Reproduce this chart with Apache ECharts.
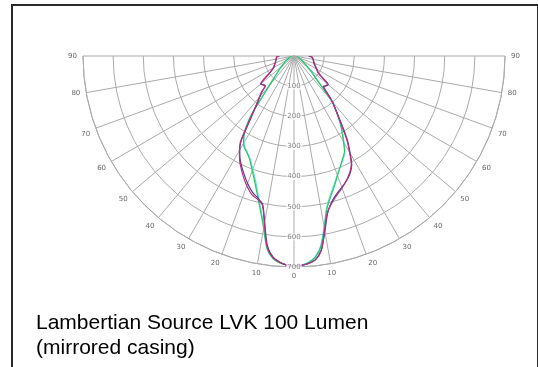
<!DOCTYPE html>
<html>
<head>
<meta charset="utf-8">
<script src="https://cdn.jsdelivr.net/npm/echarts@6/dist/echarts.min.js"></script>
<style>
  html, body { margin: 0; padding: 0; background: #fff; }
  #chart { width: 538px; height: 367px; }
</style>
</head>
<body>
<div id="chart"></div>
<script>
// gamma angles (deg), negative = left half
const angles = [-90, -87, -80, -70, -60, -55, -52, -50, -47, -44, -42, -40, -38, -36, -34, -32, -30, -28, -26, -23, -20, -17, -14, -12, -10, -8, -6, -4, -2,
  0, 2, 4, 6, 8, 10, 12, 14, 17, 20, 23, 26, 28, 30, 32, 34, 36, 38, 40, 42, 44, 47, 50, 52, 55, 60, 70, 80, 87, 90]

// intensity curves
const red = [50, 58, 60, 67, 80, 100, 130, 143, 140, 138, 160, 180, 200, 230, 275, 335, 362, 385, 405, 432, 458, 480, 492, 505, 565, 640, 672, 686, 694,
  697, 695, 690, 680, 652, 585, 532, 508, 484, 466, 447, 425, 405, 368, 333, 290, 252, 222, 198, 165, 142, 144, 146, 128, 100, 88, 72, 65, 60, 50]
const blue = [48, 56, 60, 66, 78, 98, 128, 145, 140, 137, 158, 176, 198, 228, 270, 330, 360, 382, 400, 425, 450, 472, 488, 502, 560, 635, 670, 685, 694,
  697, 695, 690, 679, 650, 590, 535, 505, 480, 464, 448, 428, 408, 372, 338, 295, 255, 224, 198, 163, 140, 146, 148, 126, 98, 86, 70, 64, 58, 48]
const green = [8, 9, 12, 18, 28, 38, 46, 55, 68, 82, 100, 125, 165, 240, 285, 315, 335, 348, 356, 375, 405, 442, 490, 530, 580, 645, 675, 688, 694,
  697, 695, 688, 672, 640, 580, 522, 490, 455, 422, 395, 372, 357, 328, 302, 277, 250, 222, 195, 142, 108, 82, 62, 52, 42, 30, 18, 12, 9, 8]
const cyan = [10, 11, 14, 20, 30, 40, 48, 57, 70, 85, 105, 130, 170, 235, 280, 312, 332, 345, 355, 372, 400, 435, 485, 525, 575, 640, 672, 686, 693,
  696, 694, 686, 670, 636, 575, 518, 485, 450, 420, 396, 375, 360, 332, 305, 280, 252, 224, 196, 145, 110, 85, 64, 54, 44, 32, 20, 14, 11, 10]

const rings = [100, 200, 300, 400, 500, 600, 700]

const gridColor = '#aaaaaa'

const chart = echarts.init(document.getElementById('chart'))

const curve = (name, values, color) => ({
  name,
  type: 'line',
  coordinateSystem: 'polar',
  data: angles.map((a, i) => [values[i], a]),
  showSymbol: false,
  smooth: 0.3,
  lineStyle: { color, width: 1.2 },
  z: 3
})

chart.setOption({
  animation: false,
  title: {
    text: 'Lambertian Source LVK 100 Lumen\n(mirrored casing)',
    left: 31,
    top: 306,
    textStyle: {
      fontFamily: 'Liberation Sans, Arial, sans-serif',
      fontSize: 21,
      fontWeight: 'normal',
      lineHeight: 25,
      color: '#000'
    }
  },
  graphic: [{
    type: 'rect',
    shape: { x: 12, y: 5, width: 526, height: 400 },
    style: { fill: 'none', stroke: '#2a2a2a', lineWidth: 2 },
    silent: true
  }],
  polar: {
    center: [294, 56],
    radius: 211
  },
  angleAxis: {
    type: 'value',
    min: -90,
    max: 90,
    interval: 10,
    startAngle: 180,
    endAngle: 360,
    clockwise: false,
    axisLine: { lineStyle: { color: gridColor, width: 1 } },
    axisTick: { show: false },
    axisLabel: {
      formatter: (v) => Math.abs(v),
      fontSize: 7,
      color: '#666',
      margin: 6,
      fontFamily: 'DejaVu Sans'
    },
    splitLine: { lineStyle: { color: gridColor, width: 1 } }
  },
  radiusAxis: {
    type: 'value',
    min: 0,
    max: 700,
    interval: 100,
    axisLine: { show: false },
    axisTick: { show: false },
    axisLabel: { show: false },
    splitLine: { lineStyle: { color: gridColor, width: 1 } }
  },
  series: [
    curve('cyan', cyan, '#5ee3d2'),
    curve('green', green, '#2fc46a'),
    curve('blue', blue, '#4a3aa8'),
    curve('red', red, '#b8307a'),
    {
      type: 'scatter',
      coordinateSystem: 'polar',
      data: rings.map((r) => [r, 0]),
      symbolSize: 0,
      label: {
        show: true,
        position: 'inside',
        formatter: (p) => p.value[0],
        fontSize: 7,
        color: '#666',
        fontFamily: 'DejaVu Sans',
        backgroundColor: '#fff',
        padding: [0, 1]
      },
      z: 4
    }
  ]
})
</script>
</body>
</html>
